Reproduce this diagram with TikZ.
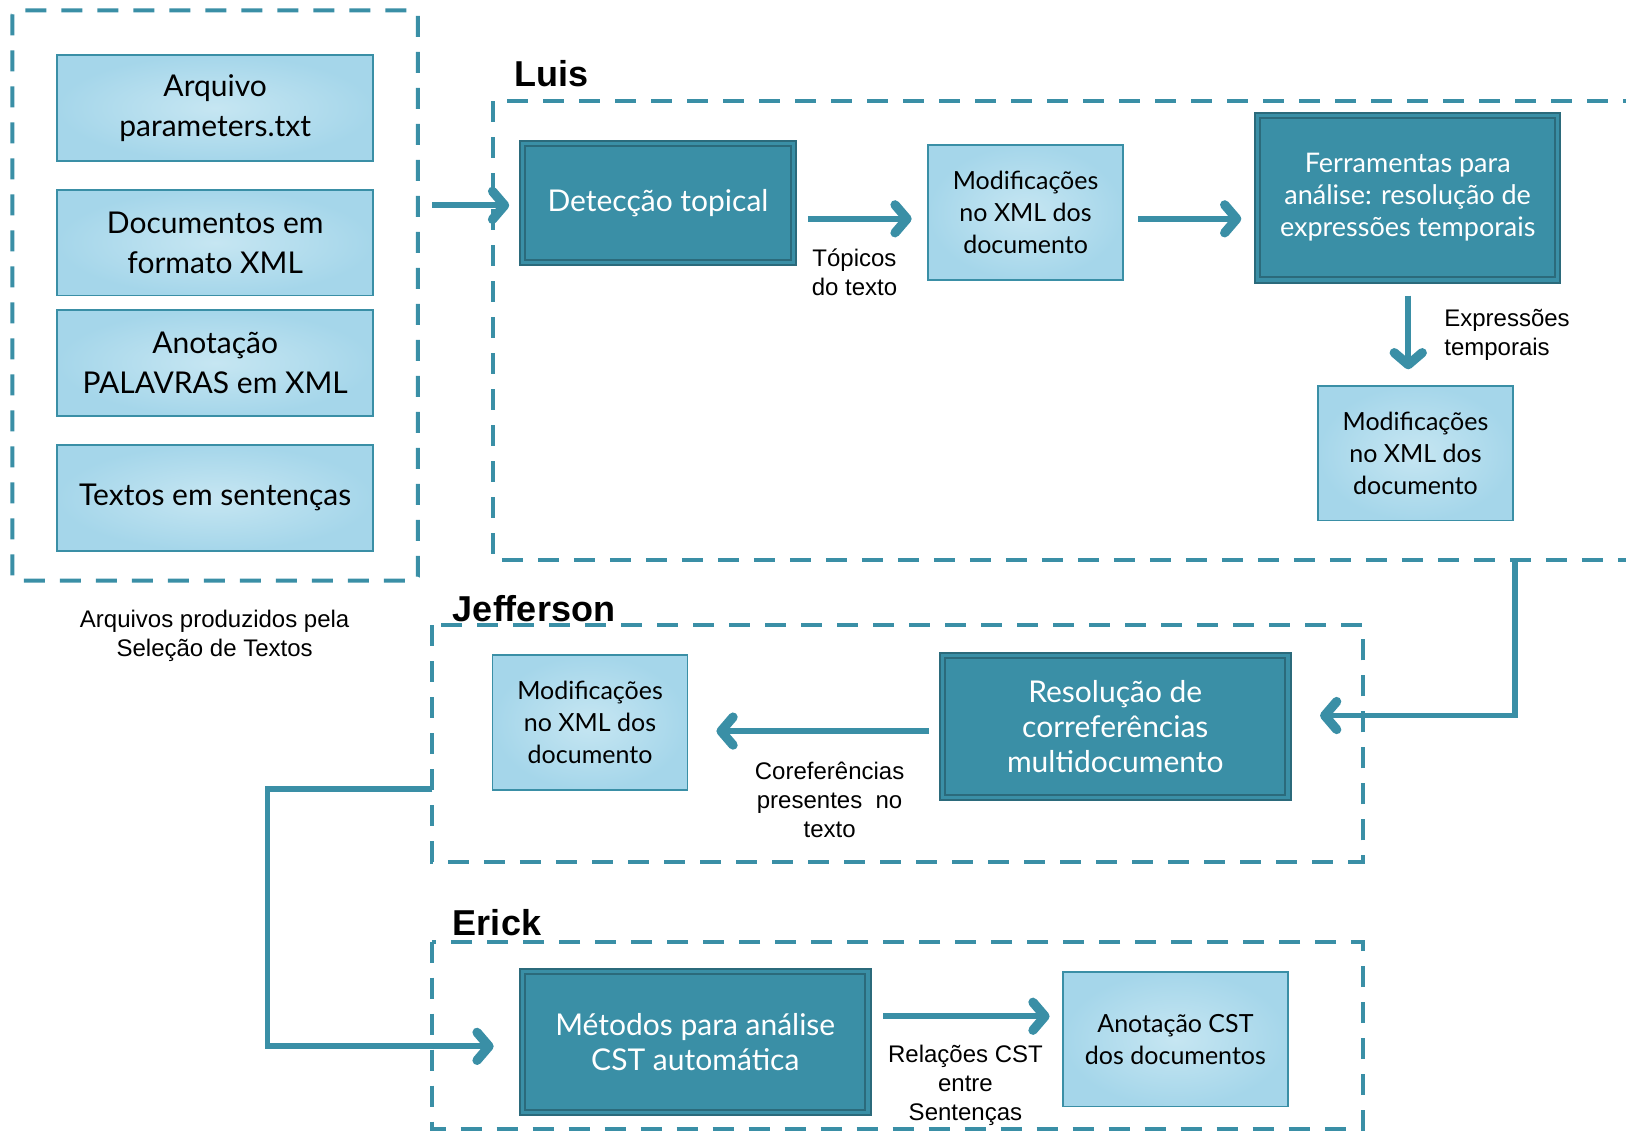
\documentclass[tikz,border=0pt]{standalone}
\usepackage{fontspec}
\setmainfont{Liberation Sans}
\newfontfamily\gillfont{Lato}
\usepackage{tikz}
\usetikzlibrary{arrows.meta,calc}

\definecolor{tealfill}{HTML}{3A8FA6}
\definecolor{tealline}{HTML}{2B6A7B}
\definecolor{lightin}{HTML}{C6E6F2}
\definecolor{lightout}{HTML}{A5D6EA}
\newdimen\pxu \pxu=0.5185pt

\begin{document}
\begin{tikzpicture}[x=0.5185pt,y=-0.5185pt,
	grp/.style={draw=tealfill,line width=2pt,dash pattern=on 10.5pt off 7.5pt},
	litebox/.style={draw=tealfill,line width=0.9pt,inner color=lightin,outer color=lightout,
		align=center,text=black,font=\gillfont\fontsize{12.5}{16}\selectfont},
	srcitem/.style={litebox,minimum width=305*\pxu,minimum height=102*\pxu,
		font=\gillfont\fontsize{15}{20}\selectfont},
	darkbox/.style={draw=tealline,fill=tealfill,line width=1pt,double=tealfill,double distance=1.6pt,
		align=center,text=white,font=\gillfont\fontsize{15}{17.5}\selectfont},
	flow/.style={draw=tealfill,line width=2.9pt,-{Straight Barb[length=6pt,width=14pt,round,line width=0pt 1.6]}},
	lbl/.style={align=center,font=\fontsize{12}{14.5}\selectfont},
	ttl/.style={font=\bfseries\fontsize{18}{21}\selectfont}]
		\clip (0,0) rectangle (1568,1093);
		
		% groups
		\draw[grp,rounded corners=2pt] (12,10) rectangle (403,560);
		\draw[grp] (1620,97) -- (475,97) -- (475,540) -- (1620,540);
		\draw[grp] (417,603) rectangle (1314,831);
		\draw[grp] (417,908) rectangle (1314,1089);
		\node[ttl,anchor=base west] (luis) at (489,83) {Luis};
		\node[ttl,anchor=base west] (jeff) at (430,599) {Jefferson};
		\node[ttl,anchor=base west] (erick) at (430,902) {Erick};
		
		% input files
		\node[srcitem] (arq) at (207.5,104) {Arquivo\\parameters.txt};
		\node[srcitem] (docs) at (207.5,234) {Documentos em\\formato XML};
		\node[srcitem] (palav) at (207.5,350) {Anotação\\PALAVRAS em XML};
		\node[srcitem] (sent) at (207.5,480) {Textos em sentenças};
		\node[lbl] (capl) at (207,613) {Arquivos produzidos pela\\Seleção de Textos};
		
		% Luis
		\node[darkbox,minimum width=261*\pxu,minimum height=115*\pxu] (detec) at (634.5,195.5) {Detecção topical};
		\node[litebox,minimum width=188*\pxu,minimum height=130*\pxu] (mod1) at (989,205) {Modificações\\no XML dos\\documento};
		\node[darkbox,minimum width=289*\pxu,minimum height=159*\pxu,font=\gillfont\fontsize{13.5}{16}\selectfont] (ferr) at (1357.5,190.5) {Ferramentas para\\análise: resolução de\\expressões temporais};
		\node[litebox,minimum width=188*\pxu,minimum height=130*\pxu] (mod2) at (1365,437) {Modificações\\no XML dos\\documento};
		\node[lbl] (topl) at (824,263) {Tópicos\\do texto};
		\node[lbl,align=left,anchor=west] (exprl) at (1386,323) {Expressões\\temporais};
		
		% Jefferson
		\node[litebox,minimum width=188*\pxu,minimum height=130*\pxu] (mod3) at (569,697) {Modificações\\no XML dos\\documento};
		\node[darkbox,minimum width=333*\pxu,minimum height=137*\pxu] (resol) at (1075.5,700.5) {Resolução de\\correferências\\multidocumento};
		\node[lbl] (corefl) at (800,771) {Coreferências\\presentes\ \ no\\texto};
		
		% Erick
		\node[darkbox,minimum width=333*\pxu,minimum height=136*\pxu] (metod) at (670.5,1005) {Métodos para análise\\CST automática};
		\node[litebox,minimum width=217*\pxu,minimum height=130*\pxu] (cst) at (1133.5,1002) {Anotação CST\\dos documentos};
		\node[lbl] (cstl) at (931,1047) {Relações CST\\entre\\Sentenças};
		
		% connectors
		\coordinate (srcout) at (417,198);
		\coordinate (luisout) at (1461,542);
		\coordinate (jeffout) at (417,761);
		\draw[flow] (srcout) -- ($(detec.west)+(-12,2.5)$);
		\draw[flow] ($(detec.east)+(13,15.5)$) -- ($(mod1.west)+(-15,6)$);
		\draw[flow] ($(mod1.east)+(14,6)$) -- ($(ferr.west)+(-15,20.5)$);
		\draw[flow] ($(ferr.south)+(0.5,14)$) -- ($(mod2.north)+(-7,-15)$);
		\draw[flow] (luisout) |- ($(resol.east)+(30,-10.5)$);
		\draw[flow] ($(resol.west)+(-12,4.5)$) -- ($(mod3.east)+(27,8)$);
		\draw[flow] (jeffout) -- ++(-159,0) |- ($(metod.west)+(-27,4)$);
		\draw[flow] ($(metod.east)+(14,-25)$) -- ($(cst.west)+(-12,-22)$);
	\end{tikzpicture}
\end{document}
